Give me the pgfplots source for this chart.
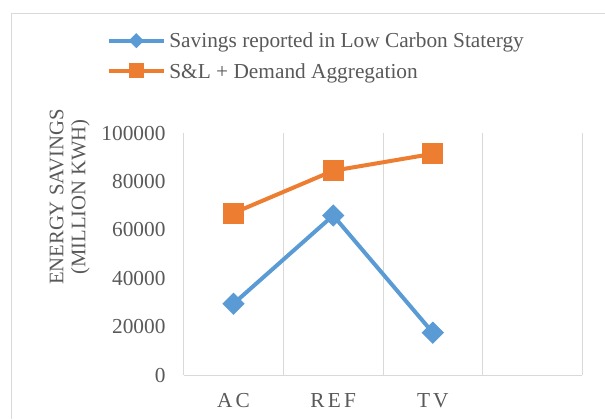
\documentclass[border=0pt]{standalone}
\usepackage{pgfplots}
\pgfplotsset{compat=1.18}
\usepackage{fontspec}
\setmainfont{Liberation Serif}

\definecolor{sblue}{HTML}{5B9BD5}
\definecolor{sorange}{HTML}{ED7D31}
\definecolor{gridgray}{HTML}{D9D9D9}
\definecolor{txtgray}{HTML}{595959}

\begin{document}
\begin{tikzpicture}
% page is 605x419 px, 1px = 0.75pt
\useasboundingbox (0pt,0pt) rectangle (453.75pt,-314.25pt);
\draw[gridgray, line width=0.75pt] (8.25pt,-314.25pt) -- (8.25pt,-10pt) -- (453.75pt,-10pt);
\begin{axis}[
    at={(137.78pt,-281.25pt)}, anchor=south west,
    scale only axis, width=298.95pt, height=181.3pt,
    xmin=-0.5, xmax=3.5,
    ymin=0, ymax=100000,
    axis x line*=bottom, axis y line*=left,
    axis line style={gridgray, line width=0.75pt, -},
    xtick={0,1,2},
    xticklabels={AC,REF,TV},
    ytick={0,20000,40000,60000,80000,100000},
    major tick length=0pt,
    extra x ticks={0.5,1.5,2.5,3.5},
    extra x tick labels={},
    extra x tick style={grid=major, major grid style={gridgray, line width=0.75pt}},
    scaled y ticks=false,
    /pgf/number format/.cd, fixed, 1000 sep={}, assume math mode=true, /pgfplots/.cd,
    yticklabel style={font=\fontsize{16}{16}\selectfont, text=txtgray, inner sep=0pt, xshift=-13.5pt},
    xticklabel style={font=\fontsize{16}{16}\selectfont\addfontfeature{LetterSpace=15}, text=txtgray, inner sep=0pt, anchor=north, yshift=-13.5pt},
    ylabel={ENERGY SAVINGS\\(MILLION KWH)},
    ylabel style={at={(rel axis cs:-0.286,0.7364)}, anchor=center, align=center,
        font=\fontsize{15.5}{16.5}\selectfont, text=txtgray},
    legend image code/.code={\draw[mark repeat=2, mark phase=2, #1] plot coordinates {(0pt,0pt) (20.75pt,0pt) (41.5pt,0pt)};},
    legend cell align=left,
    legend style={at={(rel axis cs:-0.1932,1.3205)}, anchor=west,
        draw=none, fill=none, inner sep=0pt, outer sep=0pt,
        row sep=6.1pt,
        font=\fontsize{16}{18}\selectfont, text=txtgray,
        nodes={inner sep=0pt, text height=13.6pt, text depth=3pt},
        /tikz/every odd column/.append style={column sep=2.5pt}},
]

% Savings reported in Low Carbon Statergy
\addplot[sblue, line width=3pt, mark=square*, mark size=4.4pt,
    mark options={rotate=45, draw=none, fill=sblue}, forget plot]
    coordinates {(0,29500) (1,66000) (2,17500)};

% S&L + Demand Aggregation
\addplot[sorange, line width=3pt, mark=square*, mark size=6.4pt,
    mark options={draw=none, fill=sorange}, forget plot]
    coordinates {(0,67000) (1,84500) (2,91500)};

\addlegendimage{sblue, line width=3pt, mark=square*, mark size=2.5pt, mark options={rotate=45, draw=none, fill=sblue}}
\addlegendentry{Savings reported in Low Carbon Statergy}
\addlegendimage{sorange, line width=3pt, mark=square*, mark size=4.1pt, mark options={draw=none, fill=sorange}}
\addlegendentry{S\&L + Demand Aggregation}

\end{axis}
\end{tikzpicture}
\end{document}
